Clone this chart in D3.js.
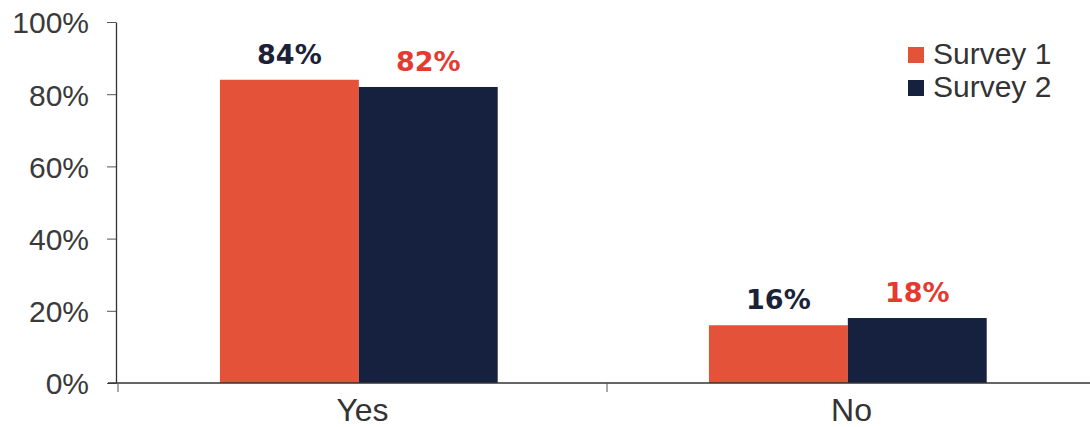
<!DOCTYPE html>
<html>
<head>
<meta charset="utf-8">
<script src="https://cdn.jsdelivr.net/npm/d3@7"></script>
<style>
  html, body { margin: 0; padding: 0; background: #ffffff; }
  svg { display: block; font-family: "Liberation Sans", Arial, sans-serif; }
</style>
</head>
<body>
<svg id="chart" width="1090" height="427"></svg>
<script>
const categories = ["Yes", "No"];
const seriesNames = ["Survey 1", "Survey 2"];
const survey1 = [84, 16];
const survey2 = [82, 18];
const yTicks = [0, 20, 40, 60, 80, 100];
const tickLabels = ["0%", "20%", "40%", "60%", "80%", "100%"];

const seriesColors = ["#e5523a", "#16213f"];
const labelColors = ["#1b2238", "#e43a30"];

const svg = d3.select("#chart");
const plot = { left: 116, right: 1096, top: 22, bottom: 383 };

const x0 = d3.scaleBand().domain(categories).range([plot.left + 2, plot.right]).paddingInner(0).paddingOuter(0);
const bw = x0.bandwidth();
const x1 = d3.scaleBand().domain(seriesNames).range([bw * 0.2085, bw * 0.7765]).padding(0);
const y = d3.scaleLinear().domain([0, 100]).range([plot.bottom, plot.top]);

const data = categories.map((c, i) => ({ cat: c, values: [survey1[i], survey2[i]] }));

// bars
const groups = svg.selectAll("g.cat").data(data).enter().append("g")
  .attr("class", "cat")
  .attr("transform", d => `translate(${x0(d.cat)},0)`);

groups.selectAll("rect").data(d => d.values.map((v, j) => ({ v, s: seriesNames[j], j })))
  .enter().append("rect")
  .attr("x", d => x1(d.s))
  .attr("width", x1.bandwidth())
  .attr("y", d => y(d.v))
  .attr("height", d => y(0) - y(d.v))
  .attr("fill", d => seriesColors[d.j]);

groups.selectAll("text.val").data(d => d.values.map((v, j) => ({ v, s: seriesNames[j], j })))
  .enter().append("text")
  .attr("class", "val")
  .attr("x", d => x1(d.s) + x1.bandwidth() / 2)
  .attr("y", d => y(d.v) - 16)
  .attr("text-anchor", "middle")
  .attr("font-size", 27)
  .attr("font-weight", "bold")
  .attr("font-family", "'DejaVu Sans', Verdana, sans-serif")
  .attr("fill", d => labelColors[d.j])
  .text(d => d.v + "%");

// y axis
const yAxis = d3.axisLeft(y).tickValues(yTicks).tickFormat((d, i) => tickLabels[i]).tickSize(9).tickSizeOuter(0).tickPadding(18);
const gy = svg.append("g").attr("transform", `translate(${plot.left},0)`).call(yAxis);
gy.select(".domain").attr("stroke", "#333").attr("stroke-width", 1.3);
gy.selectAll(".tick line").attr("stroke", "#555");
gy.selectAll(".tick text").attr("font-size", 30).attr("fill", "#3a3a3a").attr("font-family", "Liberation Sans, Arial, sans-serif").attr("dy", "0.36em");

// x axis
const xAxis = d3.axisBottom(x0).tickSize(0).tickSizeOuter(0).tickPadding(15);
const gx = svg.append("g").attr("transform", `translate(0,${plot.bottom})`).call(xAxis);
gx.select(".domain").attr("d", `M${plot.left - 8},0H1090`).attr("stroke", "#333").attr("stroke-width", 1.3);
gx.selectAll(".tick text").attr("font-size", 32).attr("fill", "#333").attr("font-family", "Liberation Sans, Arial, sans-serif").attr("dy", "0.71em");

// category boundary ticks
const bounds = [x0.range()[0], x0("No")];
gx.selectAll("line.bnd").data(bounds).enter().append("line")
  .attr("class", "bnd")
  .attr("x1", d => d).attr("x2", d => d)
  .attr("y1", 0).attr("y2", 9)
  .attr("stroke", "#555");

// legend
const legend = svg.append("g").attr("transform", "translate(908,47)");
seriesNames.forEach((s, i) => {
  const g = legend.append("g").attr("transform", `translate(0,${i * 33})`);
  g.append("rect").attr("width", 16).attr("height", 16).attr("fill", seriesColors[i]);
  g.append("text").attr("x", 25).attr("y", 17).attr("font-size", 30).attr("fill", "#333").text(s);
});
</script>
</body>
</html>
